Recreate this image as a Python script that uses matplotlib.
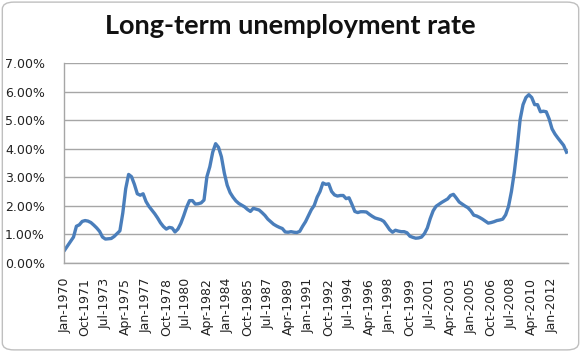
import numpy as np
import matplotlib.pyplot as plt
from matplotlib.patches import FancyBboxPatch

# Quarterly readings (Jan-1970 onward, every 3 months), percent
rate = [
    0.45, 0.60, 0.75, 0.90, 1.28, 1.33, 1.45, 1.48, 1.46, 1.41, 1.32, 1.22,
    1.10, 0.90, 0.83, 0.84, 0.85, 0.92, 1.02, 1.12, 1.75, 2.60, 3.10, 3.02,
    2.75, 2.42, 2.37, 2.42, 2.15, 1.98, 1.85, 1.72, 1.57, 1.40, 1.27, 1.18,
    1.24, 1.22, 1.08, 1.18, 1.38, 1.65, 1.95, 2.18, 2.18, 2.06, 2.07, 2.10,
    2.20, 3.02, 3.37, 3.88, 4.18, 4.05, 3.72, 3.15, 2.72, 2.46, 2.30, 2.17,
    2.08, 2.02, 1.96, 1.87, 1.80, 1.91, 1.88, 1.85, 1.76, 1.66, 1.53, 1.44,
    1.35, 1.29, 1.24, 1.20, 1.08, 1.07, 1.09, 1.07, 1.06, 1.10, 1.28, 1.44,
    1.65, 1.86, 2.01, 2.30, 2.50, 2.80, 2.75, 2.77, 2.50, 2.38, 2.34, 2.36,
    2.36, 2.25, 2.28, 2.05, 1.80, 1.76, 1.79, 1.79, 1.78, 1.70, 1.63, 1.57,
    1.54, 1.51, 1.45, 1.31, 1.16, 1.07, 1.14, 1.11, 1.09, 1.09, 1.05, 0.93,
    0.89, 0.86, 0.87, 0.90, 1.02, 1.22, 1.55, 1.82, 1.98, 2.05, 2.12, 2.18,
    2.24, 2.36, 2.40, 2.27, 2.13, 2.06, 1.99, 1.93, 1.82, 1.67, 1.64, 1.59,
    1.53, 1.46, 1.39, 1.41, 1.44, 1.48, 1.50, 1.53, 1.68, 1.98, 2.50, 3.18,
    4.05, 5.03, 5.55, 5.80, 5.90, 5.80, 5.55, 5.55, 5.30, 5.32, 5.30, 5.05,
    4.70, 4.52, 4.38, 4.25, 4.12, 3.88,
]
n_months = 521  # Jan-1970 .. May-2013
month_names = ["Jan", "Feb", "Mar", "Apr", "May", "Jun",
               "Jul", "Aug", "Sep", "Oct", "Nov", "Dec"]
tick_months = list(range(0, n_months, 21))
tick_labels = [f"{month_names[m % 12]}-{1970 + m // 12}" for m in tick_months]
y_ticks = [0, 1, 2, 3, 4, 5, 6, 7]

months = np.arange(len(rate)) * 3

fig = plt.figure(figsize=(5.81, 3.52), dpi=100)
ax = fig.add_axes([0.1107, 0.2537, 0.9776 - 0.1107, 0.820 - 0.2537])

# chart area border with rounded corners
border = FancyBboxPatch((0.004, 0.006), 0.992, 0.988,
                        boxstyle="round,pad=0,rounding_size=0.02",
                        transform=fig.transFigure, facecolor="none",
                        edgecolor="#BFBFBF", linewidth=1.0, zorder=-1)
fig.patches.append(border)

ax.plot(months, rate, color="#4A7EBB", linewidth=2.4, solid_joinstyle="round")

ax.set_xlim(-0.5, n_months - 0.5)
ax.set_ylim(0, 7)
ax.set_yticks(y_ticks)
ax.set_yticklabels([f"{v:.2f}%" for v in y_ticks])
ax.set_xticks(tick_months)
ax.set_xticklabels(tick_labels, rotation=90)

ax.grid(axis="y", color="#A6A6A6", linewidth=1.0)
ax.set_axisbelow(True)
for s in ["top", "right"]:
    ax.spines[s].set_visible(False)
for s in ["left", "bottom"]:
    ax.spines[s].set_color("#A6A6A6")
    ax.spines[s].set_linewidth(1.0)

ax.tick_params(axis="both", length=0, labelsize=9, colors="#222222")
ax.tick_params(axis="y", pad=14)
ax.tick_params(axis="x", pad=11)

fig.text(0.5, 0.927, "Long-term unemployment rate", ha="center", va="center",
         fontsize=19.5, fontweight="bold", family="Lato", color="#111111")

fig.savefig("out.png", dpi=100)
